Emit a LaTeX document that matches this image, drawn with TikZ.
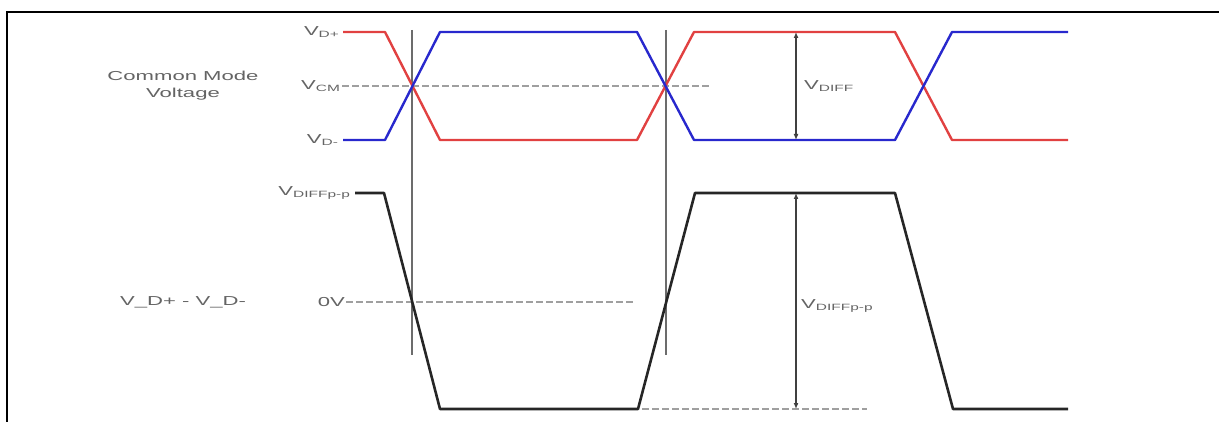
\documentclass[tikz,border=0pt]{standalone}
\usepackage{fontspec}
\setmainfont{Liberation Sans}
\usetikzlibrary{arrows.meta,positioning}
\definecolor{PosRed}{RGB}{225,65,65}
\definecolor{NegBlue}{RGB}{40,40,205}
\definecolor{LblGray}{RGB}{100,100,100}
\newcommand{\widetxt}[1]{\scalebox{1.7}[1]{#1}}
\tikzset{
  lbl/.style={text=LblGray, font=\fontsize{13}{17}\selectfont, inner sep=1pt, align=center},
  wavep/.style={draw=PosRed, line width=2.4pt, line join=round},
  waven/.style={draw=NegBlue, line width=2.4pt, line join=round},
  wavediff/.style={draw=black!85, line width=2.6pt, line join=round},
  refline/.style={draw=gray!75, dash pattern=on 7pt off 3pt, line width=1.2pt},
  marker/.style={draw=gray!85!black, line width=1.3pt},
  dim/.style={{Latex[length=6pt,width=5pt]}-{Latex[length=6pt,width=5pt]}, draw=black!75, line width=1.3pt}
}

\begin{document}
\begin{tikzpicture}[x=1pt, y=-1pt]
  \useasboundingbox (0,0) rectangle (1219,422);
  \draw[line width=2pt] (7,422) -- (7,12) -- (1219,12);

  % labels
  \node[lbl, anchor=east] (lblDp) at (341,32) {\widetxt{V\textsubscript{D+}}};
  \node[lbl, anchor=east] (lblCm) at (342,86) {\widetxt{V\textsubscript{CM}}};
  \node[lbl, anchor=east] (lblDm) at (340,140) {\widetxt{V\textsubscript{D-}}};
  \node[lbl] (lblMode) at (183,86) {\widetxt{Common Mode}\\\widetxt{Voltage}};
  \node[lbl, anchor=east] (lblPp) at (352,193) {\widetxt{V\textsubscript{DIFFp-p}}};
  \node[lbl, anchor=east] (lblZero) at (346,302) {\widetxt{0V}};
  \node[lbl] (lblDiffIn) at (183,302) {\widetxt{V\_D+ - V\_D-}};
  \node[lbl, anchor=west] (lblDiff) at (803,86) {\widetxt{V\textsubscript{DIFF}}};
  \node[lbl, anchor=west] (lblDiffPp) at (800,306) {\widetxt{V\textsubscript{DIFFp-p}}};

  % reference levels
  \coordinate (cmEnd) at (710,86);
  \coordinate (zeroEnd) at (633,302);
  \draw[refline] (lblCm.east) -- (cmEnd);
  \draw[refline] (lblZero.east) -- (zeroEnd);
  \draw[refline] (612,409) -- (867,409);

  % crossing markers
  \draw[marker] (412,30) -- (412,355);
  \draw[marker] (666,30) -- (666,355);

  % D+ / D- pair
  \draw[wavep] (343,32) -- (385,32) -- (440,140) -- (637,140) -- (694,32)
    -- (895,32) -- (952,140) -- (1068,140);
  \draw[waven] (343,140) -- (385,140) -- (440,32) -- (637,32) -- (694,140)
    -- (895,140) -- (952,32) -- (1068,32);

  % differential
  \draw[wavediff] (355,193) -- (384,193) -- (440,409) -- (638,409) -- (695,193)
    -- (895,193) -- (953,409) -- (1068,409);

  % amplitudes
  \coordinate (diffTop) at (796,32);
  \coordinate (diffBot) at (796,140);
  \coordinate (ppTop) at (796,193);
  \coordinate (ppBot) at (796,409);
  \draw[dim] (diffTop) -- (diffBot);
  \draw[dim] (ppTop) -- (ppBot);
\end{tikzpicture}
\end{document}
